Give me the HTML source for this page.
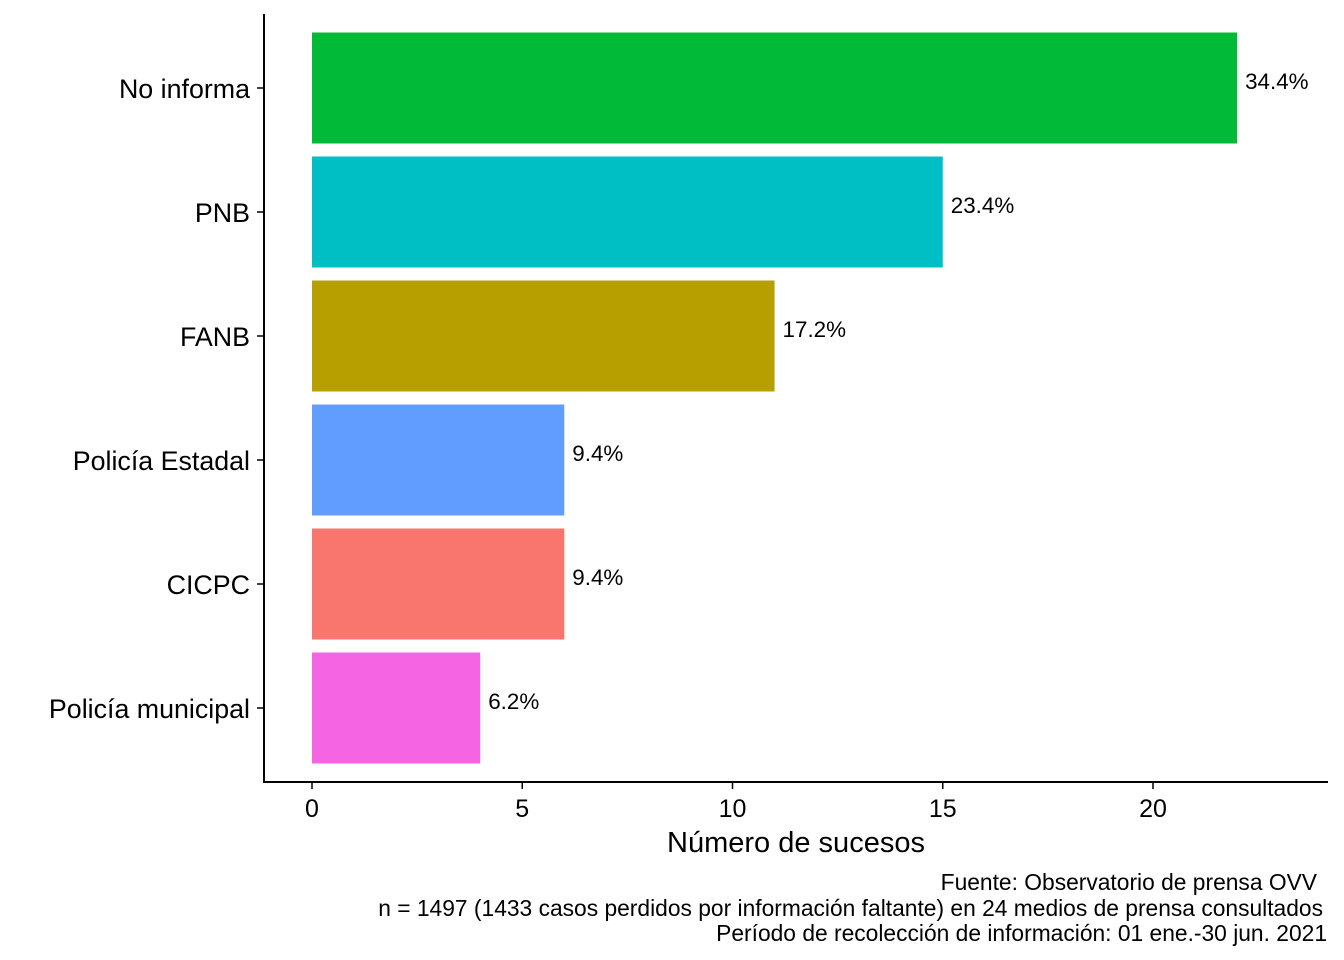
<!DOCTYPE html>
<html><head><meta charset="utf-8"><style>
html,body{margin:0;padding:0;background:#fff;}
svg{display:block;font-family:"Liberation Sans",Arial,sans-serif;}
</style></head><body>
<svg id="chart" width="1344" height="960" viewBox="0 0 1344 960">
<g id="bars"></g>
<g id="yaxis"></g>
<g id="xaxis"></g>
<text x="796" y="852" font-size="29" text-anchor="middle">Número de sucesos</text>
<g font-size="22.8" text-anchor="end">
<text x="1317" y="890">Fuente: Observatorio de prensa OVV</text>
<text x="1323" y="916">n = 1497 (1433 casos perdidos por información faltante) en 24 medios de prensa consultados</text>
<text x="1327" y="941">Período de recolección de información: 01 ene.-30 jun. 2021</text>
</g>
</svg>
<script>
const categories = ["No informa","PNB","FANB","Policía Estadal","CICPC","Policía municipal"];
const values = [22,15,11,6,6,4];
const pctLabels = ["34.4%","23.4%","17.2%","9.4%","9.4%","6.2%"];
const colors = ["#00BA38","#00BFC4","#B79F00","#619CFF","#F8766D","#F564E3"];
const xTicks = [0,5,10,15,20];

const NS="http://www.w3.org/2000/svg";
function x(v){return 312 + v*42.05;}
function yc(i){return 88 + i*124;}
const bh=111;
function mk(tag,attrs,parent,txt){const e=document.createElementNS(NS,tag);for(const k in attrs)e.setAttribute(k,attrs[k]);if(txt!==undefined)e.textContent=txt;parent.appendChild(e);return e;}
const bars=document.getElementById('bars'),ya=document.getElementById('yaxis'),xa=document.getElementById('xaxis');
categories.forEach((c,i)=>{
  const r=mk('rect',{x:x(0),y:yc(i)-bh/2,width:x(values[i])-x(0),height:bh,fill:colors[i]},bars);
  
  
  const t=mk('text',{x:x(values[i])+8,y:yc(i)+1,'font-size':22.4},bars,pctLabels[i]);
  
  
  const tk=mk('line',{x1:257,x2:264,y1:yc(i),y2:yc(i),stroke:'#000','stroke-width':1.5},ya);
  
  
  const l=mk('text',{x:250,y:yc(i)+10,'font-size':26.8,'text-anchor':'end'},ya,c);
  
  
});
const yl=mk('line',{x1:264,x2:264,y1:14,y2:782,stroke:'#000','stroke-width':2},ya);


const xl=mk('line',{x1:263,x2:1328,y1:782,y2:782,stroke:'#000','stroke-width':2},xa);


xTicks.forEach(v=>{
  const tk=mk('line',{x1:x(v),x2:x(v),y1:782,y2:789,stroke:'#000','stroke-width':1.5},xa);
  
  
  const t=mk('text',{x:x(v),y:817,'font-size':25,'text-anchor':'middle'},xa,String(v));
  
  
});
</script>
</body></html>
